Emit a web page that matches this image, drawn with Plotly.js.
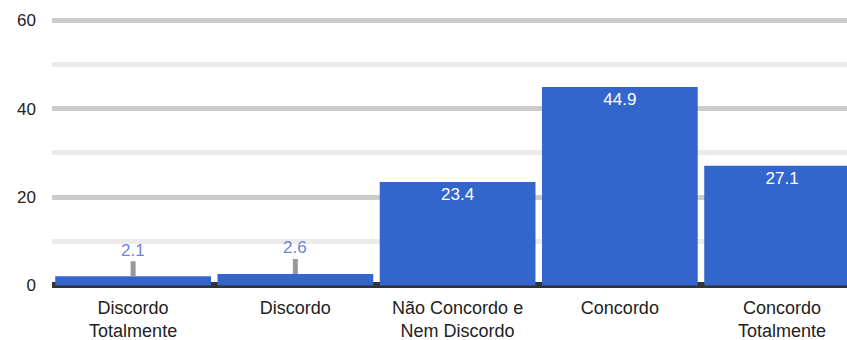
<!DOCTYPE html>
<html>
<head>
<meta charset="utf-8">
<script src="https://cdn.plot.ly/plotly-3.0.1.min.js"></script>
<style>html,body{margin:0;padding:0;background:#fff;}#chart{width:847px;height:340px;}</style>
</head>
<body>
<div id="chart"></div>
<script>
const categories = ["Discordo<br>Totalmente", "Discordo", "Não Concordo e<br>Nem Discordo", "Concordo", "Concordo<br>Totalmente"];
const values = [2.1, 2.6, 23.4, 44.9, 27.1];
const valueLabels = ["2.1", "2.6", "23.4", "44.9", "27.1"];
const yTicks = [0, 20, 40, 60];
const yMinorTicks = [10, 30, 50];

const outsideThreshold = 10;
const barColor = "#3366cc";
const font = "Liberation Sans, Arial, sans-serif";

const trace = {
  type: "bar",
  x: categories,
  y: values,
  marker: {color: barColor},
  text: valueLabels.map((t, i) => values[i] >= outsideThreshold ? t : ""),
  textposition: "inside",
  insidetextanchor: "end",
  constraintext: "none",
  textangle: 0,
  insidetextfont: {color: "#ffffff", size: 17, family: font},
  hoverinfo: "none"
};

const annotations = [];
values.forEach((v, i) => {
  if (v < outsideThreshold) {
    annotations.push({
      x: categories[i], y: v, xref: "x", yref: "y",
      text: valueLabels[i],
      showarrow: true, arrowhead: 0, arrowwidth: 5, arrowcolor: "#999999",
      ax: 0, ay: -26, standoff: -3,
      font: {size: 17, color: "#6a85d8", family: font}
    });
  }
});

const layout = {
  width: 847, height: 340,
  margin: {l: 52, r: 0, t: 18, b: 51},
  paper_bgcolor: "#fff", plot_bgcolor: "#fff",
  showlegend: false,
  bargap: 0.04,
  font: {family: font, size: 17, color: "#222222"},
  xaxis: {
    range: [-0.5, 4.4],
    showgrid: false, zeroline: false, showline: false,
    ticks: "", ticklabelstandoff: 6,
    tickfont: {size: 18, color: "#222222"},
    fixedrange: true
  },
  yaxis: {
    range: [-0.8, 60.5],
    tickvals: yTicks,
    ticktext: yTicks.map(String),
    showgrid: true, gridcolor: "#cccccc", gridwidth: 5,
    minor: {tickvals: yMinorTicks, showgrid: true, gridcolor: "#ebebeb", gridwidth: 5},
    zeroline: true, zerolinecolor: "#333333", zerolinewidth: 6,
    showline: false, ticks: "", ticklabelstandoff: 15,
    tickfont: {size: 17, color: "#222222"},
    fixedrange: true
  },
  annotations: annotations
};

Plotly.newPlot("chart", [trace], layout, {displayModeBar: false, staticPlot: true});
</script>
</body>
</html>
